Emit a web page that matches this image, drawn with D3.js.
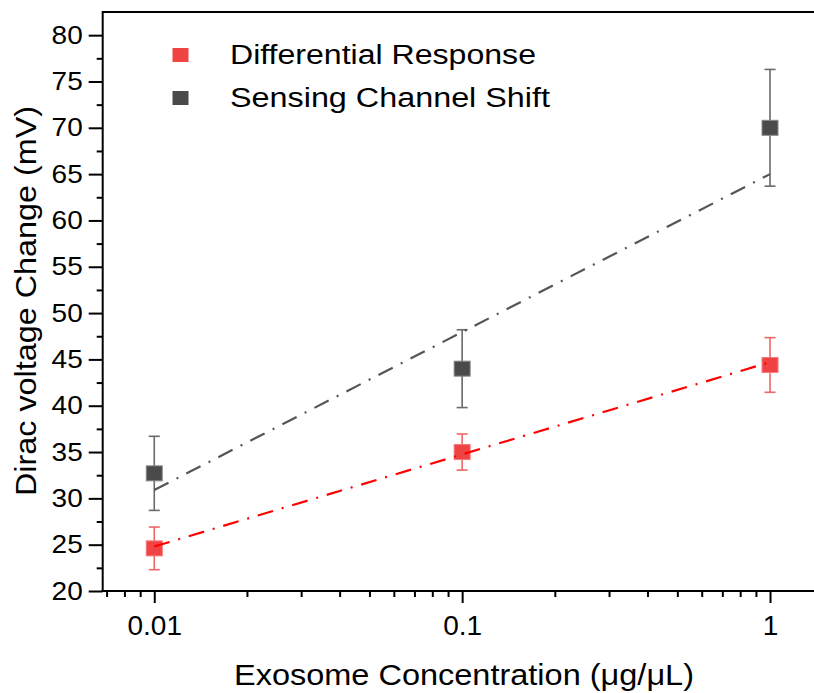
<!DOCTYPE html>
<html>
<head>
<meta charset="utf-8">
<script src="https://cdn.jsdelivr.net/npm/d3@7"></script>
<style>
  html, body { margin: 0; padding: 0; background: #fff; overflow: hidden; }
  svg { display: block; overflow: hidden; }
  svg text { font-family: "Liberation Sans", Arial, sans-serif; fill: #000; }
</style>
</head>
<body>
<svg id="chart" width="814" height="693"></svg>
<script>
// ---- data ----
const concentrations = [0.01, 0.1, 1];
const diffValues = [24.6, 35.0, 44.4];
const diffErrors = [2.3, 1.95, 2.95];
const shiftValues = [32.7, 44.0, 70.0];
const shiftErrors = [4.0, 4.2, 6.3];
const fitX = [0.01, 1];
const diffFit = [24.8, 44.7];
const shiftFit = [30.9, 65.0];
const yTickValues = [20, 25, 30, 35, 40, 45, 50, 55, 60, 65, 70, 75, 80];
const yMinorValues = [22.5, 27.5, 32.5, 37.5, 42.5, 47.5, 52.5, 57.5, 62.5, 67.5, 72.5, 77.5];
const xTickValues = [0.01, 0.1, 1];
const xTickLabels = ["0.01", "0.1", "1"];
const xMinorValues = [0.007, 0.008, 0.009, 0.02, 0.03, 0.04, 0.05, 0.06, 0.07, 0.08, 0.09,
                      0.2, 0.3, 0.4, 0.5, 0.6, 0.7, 0.8, 0.9];
const seriesNames = ["Differential Response", "Sensing Channel Shift"];

const series = [
  { name: seriesNames[0], values: diffValues, errors: diffErrors, fit: diffFit,
    fill: "#f04343", stroke: "#f47a7a", err: "#ee6666", line: "#ff0000" },
  { name: seriesNames[1], values: shiftValues, errors: shiftErrors, fit: shiftFit,
    fill: "#4a4a4a", stroke: "#8a8a8a", err: "#6a6a6a", line: "#555555" }
];

const svg = d3.select("#chart");
const padLeft = 102.7, padTop = 12, padBottom = 591, rightEdge = 862.7;

const x = d3.scaleLog().domain([0.0068, 2]).range([padLeft, rightEdge]);
const y = d3.scaleLinear().domain([20, 82.5]).range([padBottom, padTop]);

// frame (top border + left/bottom axis lines; right side lies outside the picture)
svg.append("line").attr("x1", padLeft).attr("x2", 814).attr("y1", padTop).attr("y2", padTop)
  .attr("stroke", "#000").attr("stroke-width", 2);
svg.append("line").attr("x1", padLeft).attr("x2", padLeft).attr("y1", padTop - 1).attr("y2", padBottom + 1)
  .attr("stroke", "#000").attr("stroke-width", 2);
svg.append("line").attr("x1", padLeft - 1).attr("x2", 814).attr("y1", padBottom).attr("y2", padBottom)
  .attr("stroke", "#000").attr("stroke-width", 2);

// y axis
const yAxis = svg.append("g").attr("transform", `translate(${padLeft},0)`)
  .call(d3.axisLeft(y).tickValues(yTickValues).tickSize(14).tickPadding(6).tickFormat(d3.format("d")));
yAxis.select(".domain").remove();
yAxis.selectAll("line").attr("stroke-width", 2);
yAxis.selectAll("text").attr("font-size", 25).style("font-family", "Liberation Sans, Arial");
const yMinor = svg.append("g").attr("transform", `translate(${padLeft},0)`)
  .call(d3.axisLeft(y).tickValues(yMinorValues).tickSize(6).tickFormat(""));
yMinor.select(".domain").remove();
yMinor.selectAll("line").attr("stroke-width", 2);

// x axis
const xAxis = svg.append("g").attr("transform", `translate(0,${padBottom})`)
  .call(d3.axisBottom(x).tickValues(xTickValues).tickSize(12).tickPadding(12)
    .tickFormat((d, i) => xTickLabels[i]));
xAxis.select(".domain").remove();
xAxis.selectAll("line").attr("stroke-width", 2);
xAxis.selectAll("text").attr("font-size", 28).style("font-family", "Liberation Sans, Arial");
const xMinor = svg.append("g").attr("transform", `translate(0,${padBottom})`)
  .call(d3.axisBottom(x).tickValues(xMinorValues).tickSize(6).tickFormat(""));
xMinor.select(".domain").remove();
xMinor.selectAll("line").attr("stroke-width", 2);

// stretch y tick labels a bit horizontally
yAxis.selectAll("text").each(function () {
  const w = this.getComputedTextLength();
  d3.select(this).attr("textLength", w * 1.12).attr("lengthAdjust", "spacingAndGlyphs");
});

// axis titles
svg.append("text").attr("x", 464).attr("y", 685)
  .attr("text-anchor", "middle").attr("font-size", 30)
  .attr("textLength", 460).attr("lengthAdjust", "spacingAndGlyphs")
  .text("Exosome Concentration (μg/μL)");
svg.append("text").attr("transform", "translate(36,301) rotate(-90)")
  .attr("text-anchor", "middle").attr("font-size", 30)
  .attr("textLength", 390).attr("lengthAdjust", "spacingAndGlyphs")
  .text("Dirac voltage Change (mV)");

// error bars, markers
const capW = 11, mW = 16, mH = 15;
series.forEach(s => {
  const g = svg.append("g");
  concentrations.forEach((c, i) => {
    const cx = x(c), hi = y(s.values[i] + s.errors[i]), lo = y(s.values[i] - s.errors[i]);
    g.append("line").attr("x1", cx).attr("x2", cx).attr("y1", hi).attr("y2", lo)
      .attr("stroke", s.err).attr("stroke-width", 1.6);
    g.append("line").attr("x1", cx - capW / 2).attr("x2", cx + capW / 2).attr("y1", hi).attr("y2", hi)
      .attr("stroke", s.err).attr("stroke-width", 1.6);
    g.append("line").attr("x1", cx - capW / 2).attr("x2", cx + capW / 2).attr("y1", lo).attr("y2", lo)
      .attr("stroke", s.err).attr("stroke-width", 1.6);
  });
  g.selectAll("rect.m").data(concentrations).enter().append("rect")
    .attr("x", c => x(c) - mW / 2)
    .attr("y", (c, i) => y(s.values[i]) - mH / 2)
    .attr("width", mW).attr("height", mH)
    .attr("fill", s.fill).attr("stroke", s.stroke).attr("stroke-width", 1);
});

// fit lines (dash-dot)
const line = d3.line().x(d => x(d[0])).y(d => y(d[1]));
series.forEach(s => {
  svg.append("path").datum(fitX.map((v, i) => [v, s.fit[i]]))
    .attr("d", line).attr("fill", "none")
    .attr("stroke", s.line).attr("stroke-width", 2.2)
    .attr("stroke-dasharray", "16,9,2,9");
});

// legend
const legend = svg.append("g");
const legY = [55, 98];
series.forEach((s, i) => {
  legend.append("rect").attr("x", 172.5).attr("y", legY[i] - 7)
    .attr("width", 16).attr("height", 14).attr("fill", s.fill);
  legend.append("text").attr("x", 230).attr("y", legY[i] + 9)
    .attr("font-size", 27)
    .attr("textLength", i === 0 ? 306 : 320).attr("lengthAdjust", "spacingAndGlyphs")
    .text(s.name);
});
</script>
</body>
</html>
